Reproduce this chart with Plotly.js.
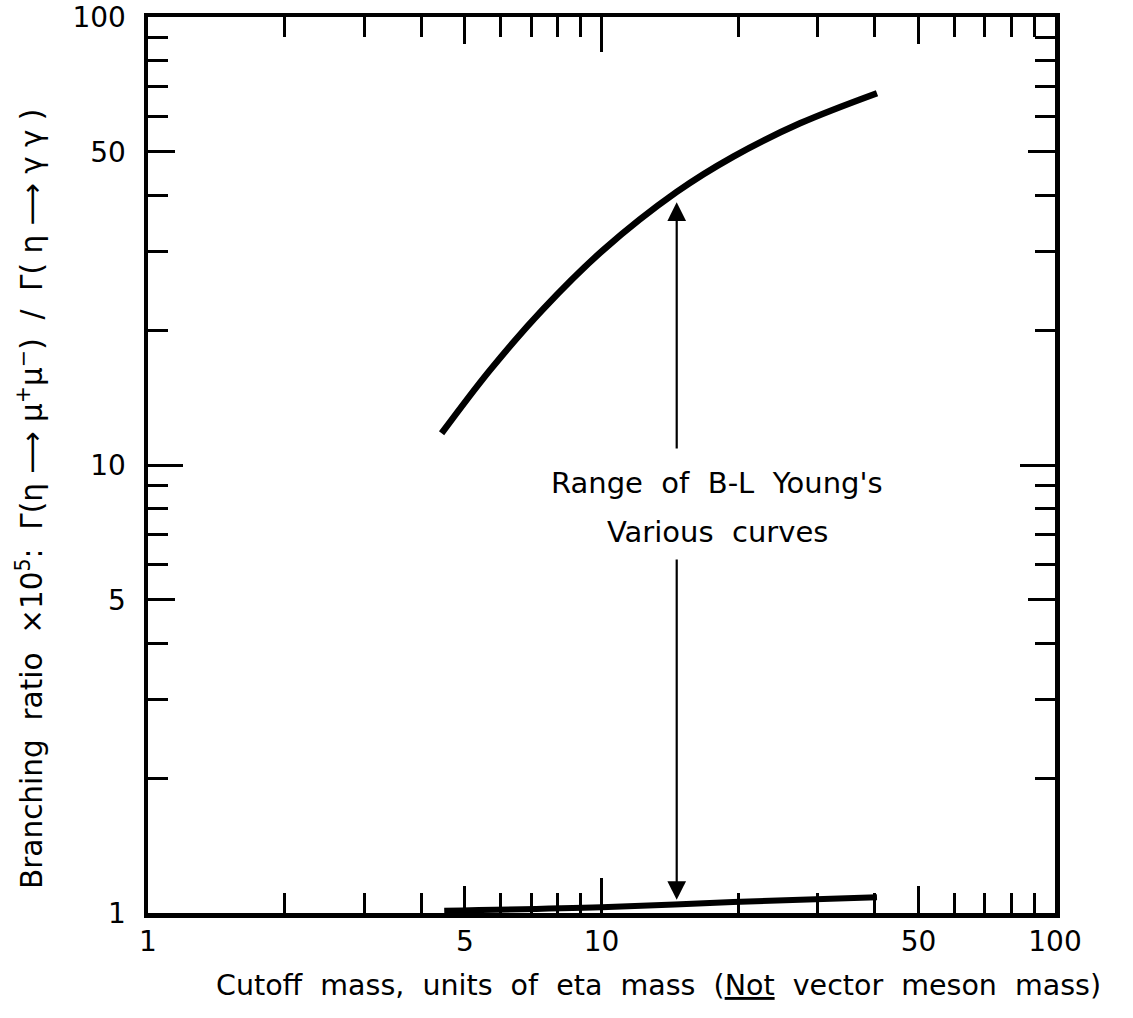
<!DOCTYPE html>
<html>
<head>
<meta charset="utf-8">
<script src="https://cdn.plot.ly/plotly-3.0.1.min.js"></script>
<style>html,body{margin:0;padding:0;background:#fff;}#chart{width:1133px;height:1018px;}</style>
</head>
<body>
<div id="chart"></div>
<script>
// Upper curve
const upperX = [4.44, 5.68, 7.44, 10.09, 14.65, 19.53, 27.4, 40.5];
const upperY = [11.77, 16.30, 22.30, 30.20, 40.7, 48.8, 57.9, 67.6];
// Lower curve
const lowerX = [4.5, 10.0, 19.5, 40.5];
const lowerY = [1.012, 1.03, 1.058, 1.085];
// Tick values / labels
const majorTicks = [1, 5, 10, 50, 100];
const majorLabels = ["1", "5", "10", "50", "100"];
const minorTicks = [2, 3, 4, 6, 7, 8, 9, 20, 30, 40, 60, 70, 80, 90];
const decadeTicks = [10];
// Range arrow (x position and y ends)
const arrowX = 14.65;
const arrowUpHead = 38.6, arrowUpTail = 10.8;
const arrowDownTail = 6.2, arrowDownHead = 1.07;
const noteX = 17.98;
const noteLines = ["Range  of  B-L  Young's", "Various  curves"];
const noteYs = [9.12, 7.09];

const FONT = "DejaVu Sans, Verdana, sans-serif";
const L = Math.log10;

const traces = [
  {x: upperX, y: upperY, mode: 'lines', line: {color: '#000', width: 6.5, shape: 'spline', smoothing: 1}, hoverinfo: 'skip', showlegend: false},
  {x: lowerX, y: lowerY, mode: 'lines', line: {color: '#000', width: 6, shape: 'spline'}, hoverinfo: 'skip', showlegend: false},
  {x: [], y: [], xaxis: 'x2', yaxis: 'y2', showlegend: false}
];

const baseAxis = {
  type: 'log', range: [0, 2], showgrid: false, zeroline: false,
  showline: true, linecolor: '#000', linewidth: 4.5, mirror: 'allticks',
  ticks: 'inside', tickcolor: '#000', tickwidth: 3, ticklen: 27,
  tickmode: 'array', tickvals: majorTicks, ticktext: majorLabels,
  tickfont: {family: FONT, size: 28, color: '#000'},
  minor: {ticks: 'inside', tickmode: 'array', tickvals: minorTicks, ticklen: 20, tickwidth: 3, tickcolor: '#000', showgrid: false}
};
const overlayAxis = {
  type: 'log', range: [0, 2], showgrid: false, zeroline: false, showline: false,
  mirror: 'allticks', ticks: 'inside', tickcolor: '#000', tickwidth: 3, ticklen: 35,
  tickmode: 'array', tickvals: decadeTicks, showticklabels: false
};

const pw = 1133 - 148 - 78, ph = 1018 - 17 - 105;
const px2paperX = p => (p - 148) / pw;
const px2paperY = p => (913 - p) / ph;

const annotations = [
  {x: L(arrowX), y: L(arrowUpHead), ax: L(arrowX), ay: L(arrowUpTail), xref: 'x', yref: 'y', axref: 'x', ayref: 'y',
   showarrow: true, arrowhead: 2, arrowsize: 1.7, arrowwidth: 2.2, arrowcolor: '#000', text: ''},
  {x: L(arrowX), y: L(arrowDownHead), ax: L(arrowX), ay: L(arrowDownTail), xref: 'x', yref: 'y', axref: 'x', ayref: 'y',
   showarrow: true, arrowhead: 2, arrowsize: 1.7, arrowwidth: 2.2, arrowcolor: '#000', text: ''},
  {x: px2paperX(658), y: px2paperY(985), xref: 'paper', yref: 'paper', xanchor: 'center', yanchor: 'middle', showarrow: false,
   text: "Cutoff  mass,  units  of  eta  mass  (<u>Not</u>  vector  meson  mass)",
   font: {family: FONT, size: 28.5, color: '#000'}},
  {x: px2paperX(30), y: px2paperY(499), xref: 'paper', yref: 'paper', xanchor: 'center', yanchor: 'middle', showarrow: false, textangle: -90,
   text: "Branching  ratio  ×10<sup>5</sup>:  Γ(η ⟶ μ<sup>+</sup>μ<sup>−</sup>)  /  Γ( η ⟶ γ γ )",
   font: {family: FONT, size: 29.5, color: '#000'}}
];
noteLines.forEach((t, i) => annotations.push({
  x: L(noteX), y: L(noteYs[i]), xref: 'x', yref: 'y', xanchor: 'center', yanchor: 'middle', showarrow: false, text: t,
  font: {family: FONT, size: 29, color: '#000'}
}));

const layout = {
  width: 1133, height: 1018,
  margin: {l: 148, r: 78, t: 17, b: 105},
  paper_bgcolor: '#fff', plot_bgcolor: '#fff',
  font: {family: FONT, color: '#000'},
  xaxis: Object.assign({}, baseAxis, {ticklabelstandoff: 0}),
  yaxis: Object.assign({}, baseAxis, {ticklabelstandoff: 12}),
  xaxis2: Object.assign({}, overlayAxis, {overlaying: 'x', anchor: 'y', side: 'bottom'}),
  yaxis2: Object.assign({}, overlayAxis, {overlaying: 'y', anchor: 'x', side: 'left'}),
  annotations: annotations
};

Plotly.newPlot('chart', traces, layout, {staticPlot: true});
</script>
</body>
</html>
